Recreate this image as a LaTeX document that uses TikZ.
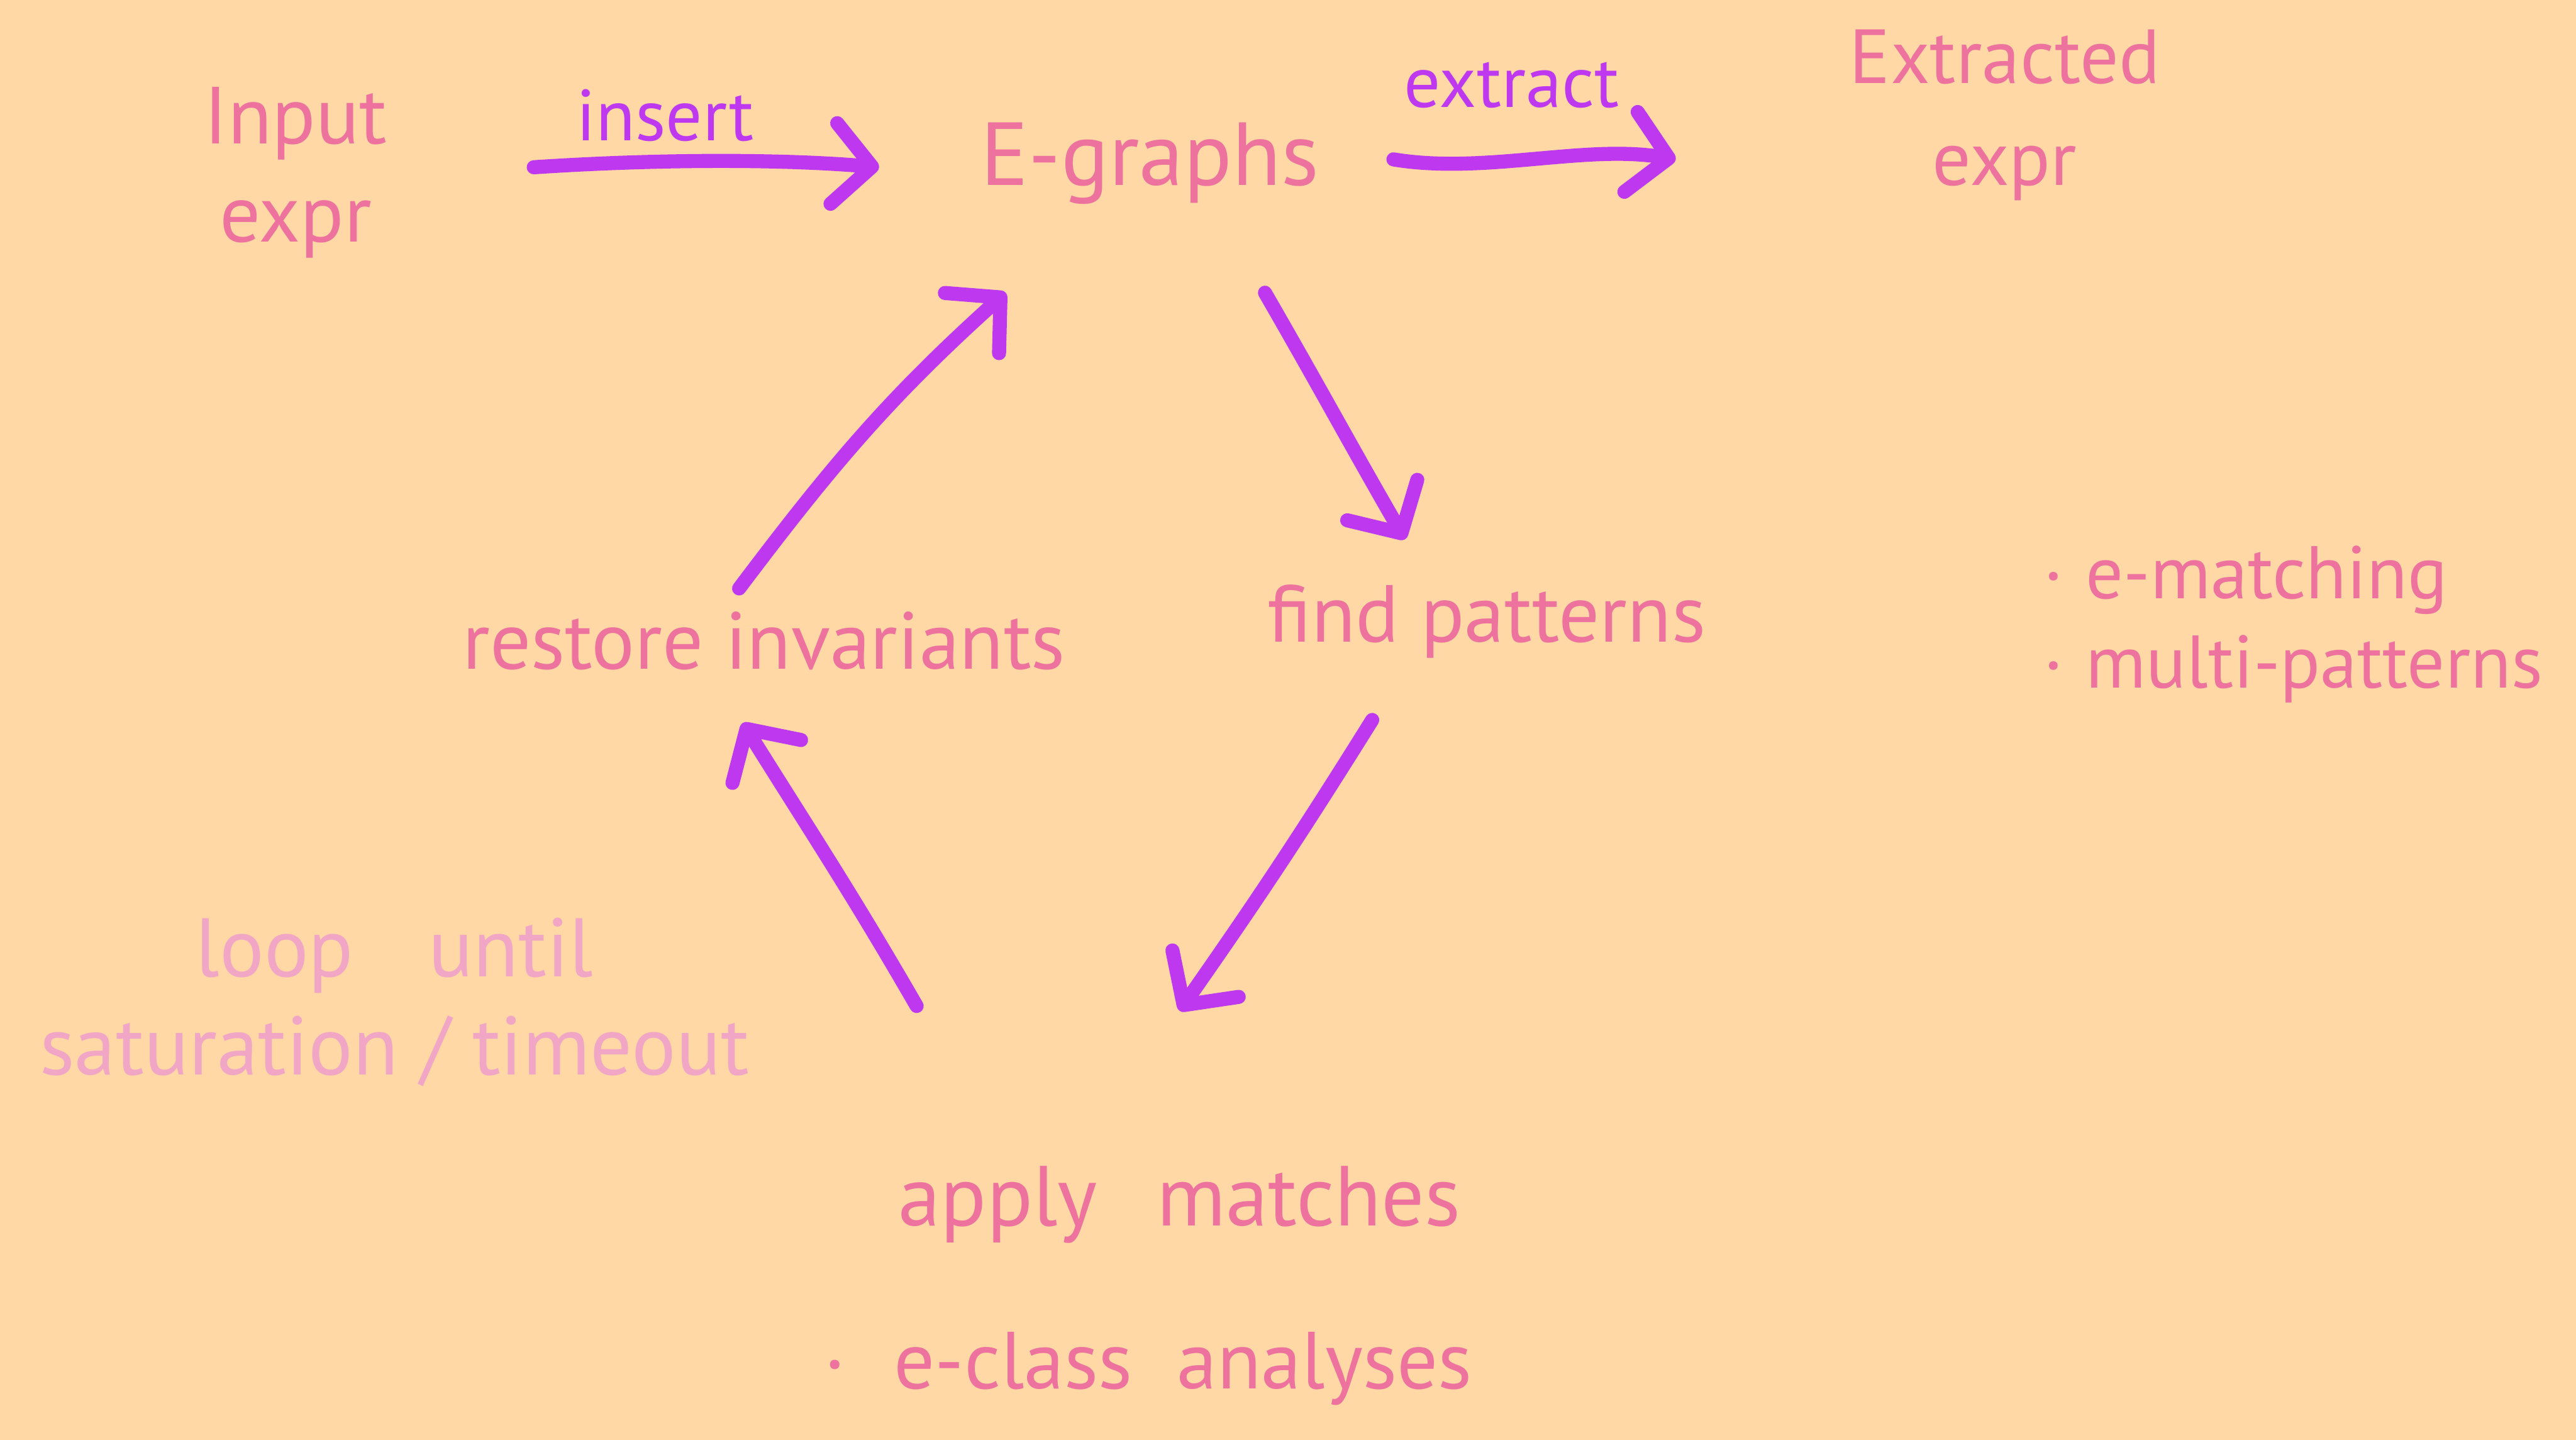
\documentclass[tikz,border=0pt]{standalone}
\usepackage{fontspec}
\setmainfont{PT Sans}
\usepackage{tikz}
\usetikzlibrary{calc, arrows.meta}
\tikzset{>=latex}
\definecolor{mypeach}{RGB}{255,216,166}
\definecolor{mypink}{RGB}{238,114,158}
\definecolor{mypink2}{RGB}{242,166,198}
\definecolor{mypurple}{RGB}{190,56,240}

\begin{document}
\begin{tikzpicture}[x=0.5cm, y=0.5cm,
  txt/.style={text=mypink, inner sep=0pt, align=center, font=\fontsize{19}{23}\selectfont},
  lbl/.style={txt, text=mypurple},
  flow/.style={draw=mypurple, line width=3.3pt, line cap=round, -{Straight Barb[round, length=9pt, width=19pt]}}]
\fill[mypeach] (0,0) rectangle (42.52,23.76);
\node[txt] (input) at (4.88,20.91) {Input\\expr};
\node[txt, font=\fontsize{21}{25}\selectfont] (egraphs) at (18.98,21.06) {E-graphs};
\node[txt, font=\fontsize{18}{24}\selectfont] (extracted) at (33.09,21.86) {Extracted\\expr};
\node[txt] (find) at (24.54,13.51) {find patterns};
\node[txt] (restore) at (12.61,13.18) {restore invariants};
\node[txt, font=\fontsize{20}{24}\selectfont] (apply) at (19.47,3.88) {apply\hspace{0.7em}matches};
\node[txt] (analyses) at (18.95,1.17) {·\hspace{0.6em}e-class\hspace{0.55em}analyses};
\node[txt, align=left, font=\fontsize{17.5}{21}\selectfont] (bullets) at (37.85,13.46) {·\hspace{0.3em}e-matching\\·\hspace{0.3em}multi-patterns};
\node[txt, text=mypink2, font=\fontsize{19.5}{23}\selectfont] (loop) at (6.51,7.22) {loop\hspace{0.9em}until\\saturation / timeout};
\node[lbl, font=\fontsize{17}{20}\selectfont] (insert) at (10.98,21.86) {insert};
\node[lbl, font=\fontsize{17}{20}\selectfont] (extract) at (24.95,22.35) {extract};

\draw[flow] ($(input)+(3.93,0.09)$) .. controls +(1.8,0.12) and +(-1.8,0.15) .. ($(egraphs)+(-4.47,-0.06)$);
\draw[flow] ($(egraphs)+(4.02,0.07)$) .. controls +(1.5,-0.25) and +(-1.5,0.25) .. ($(extracted)+(-5.43,-0.73)$);
\draw[flow] ($(egraphs)+(1.90,-2.13)$) to[out=-60, in=120] ($(find)+(-1.35,1.35)$);
\draw[flow] ($(find)+(-1.89,-1.63)$) to[out=-122, in=55] ($(apply)+(0,3.20)$);
\draw[flow] ($(apply)+(-4.34,3.28)$) to[out=120, in=-58] ($(restore)+(-0.35,-1.35)$);
\draw[flow] ($(restore)+(-0.41,0.87)$) to[out=53, in=-138] ($(egraphs)+(-2.38,-2.13)$);
\end{tikzpicture}
\end{document}
